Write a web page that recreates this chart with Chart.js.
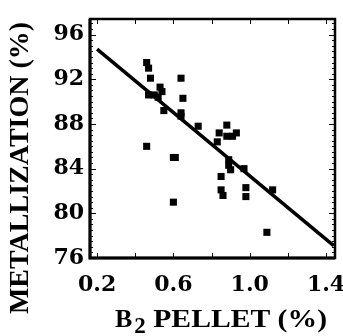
<!DOCTYPE html>
<html>
<head>
<meta charset="utf-8">
<script src="https://cdn.jsdelivr.net/npm/chart.js@4"></script>
<style>
  html, body { margin: 0; padding: 0; background: #ffffff; }
</style>
</head>
<body>
<canvas id="maingraph" width="343" height="336"></canvas>
<script>
// data
const pelletX = [0.46, 0.47, 0.48, 0.64, 0.53, 0.54, 0.47, 0.50, 0.52, 0.65, 0.55, 0.64, 0.64, 0.73, 0.88, 0.84, 0.93, 0.88, 0.91, 0.83, 0.46, 0.60, 0.61, 0.89, 0.89, 0.90, 0.97, 0.85, 0.85, 0.86, 0.98, 0.98, 1.12, 0.60, 1.09];
const metalY = [93.5, 93.0, 92.1, 92.1, 91.3, 90.9, 90.6, 90.6, 90.4, 90.3, 89.2, 89.0, 88.7, 87.8, 87.9, 87.2, 87.2, 86.9, 86.9, 86.4, 86.0, 85.0, 85.0, 84.8, 84.3, 83.9, 84.0, 83.3, 82.1, 81.6, 82.3, 81.5, 82.1, 81.0, 78.3];
const fitX = [0.2, 1.44];
const fitY = [94.7, 77.1];
const xTicks = [0.2, 0.6, 1.0, 1.4];
const yTicks = [76, 80, 84, 88, 92, 96];
const xTitle = ["B", "2", " PELLET (%)"];
const yTitle = "METALLIZATION (%)";

const tickFont = { family: "DejaVu Serif", weight: "bold", size: 22 };
const titleFamily = "'Liberation Serif', serif";

// frame, inward ticks and axis titles
const framePlugin = {
  id: "frame",
  afterDatasetsDraw(chart) {
    const c = chart.ctx;
    const a = chart.chartArea;
    const xs = chart.scales.x;
    const ys = chart.scales.y;
    c.save();
    c.strokeStyle = "#000";
    c.lineWidth = 1;
    c.beginPath();
    for (let v = 76; v <= 97.4; v += 0.5) {
      const py = Math.round(ys.getPixelForValue(v)) + 0.5;
      const len = (v % 4 == 0) ? 6 : 3;
      c.moveTo(a.left, py); c.lineTo(a.left + len, py);
      c.moveTo(a.right, py); c.lineTo(a.right - len, py);
    }
    for (let v = 0.2; v <= 1.41; v += 0.2) {
      const px = Math.round(xs.getPixelForValue(v)) + 0.5;
      c.moveTo(px, a.top); c.lineTo(px, a.top + 5);
      c.moveTo(px, a.bottom); c.lineTo(px, a.bottom - 5);
    }
    c.stroke();
    c.lineWidth = 2.5;
    c.strokeRect(a.left, a.top, a.right - a.left, a.bottom - a.top);
    c.lineWidth = 3;
    c.beginPath();
    c.moveTo(a.left, a.top); c.lineTo(a.left, a.bottom); c.lineTo(a.right, a.bottom);
    c.stroke();

    // y title
    c.fillStyle = "#000";
    c.save();
    c.translate(21, 168);
    c.rotate(-Math.PI / 2);
    c.font = "bold 28px " + titleFamily;
    c.textAlign = "center";
    c.textBaseline = "middle";
    c.fillText(yTitle, 0, 0);
    c.restore();

    // x title with subscript
    c.textAlign = "left";
    c.textBaseline = "alphabetic";
    c.font = "bold 26px " + titleFamily;
    c.fillText(xTitle[0], 115, 327);
    const bw = c.measureText(xTitle[0]).width;
    c.font = "bold 23px " + titleFamily;
    c.fillText(xTitle[1], 115 + bw + 2, 333);
    const sw = c.measureText(xTitle[1]).width;
    c.font = "bold 26px " + titleFamily;
    const startX = 115 + bw + 2 + sw;
    const restW = c.measureText(xTitle[2]).width;
    const sx = (327 - startX) / restW;
    c.save();
    c.translate(startX, 327);
    c.scale(sx, 1);
    c.fillText(xTitle[2], 0, 0);
    c.restore();
    c.restore();
  }
};

const ctx = document.getElementById("maingraph");

new Chart(ctx, {
  type: "scatter",
  data: {
    datasets: [
      {
        label: "data",
        data: pelletX.map((x, i) => ({ x: x, y: metalY[i] })),
        pointStyle: "rect",
        pointRadius: 5,
        backgroundColor: "#000",
        borderColor: "#000",
        borderWidth: 0,
      },
      {
        label: "fit",
        data: fitX.map((x, i) => ({ x: x, y: fitY[i] })),
        showLine: true,
        pointRadius: 0,
        borderColor: "#000",
        borderWidth: 3.5,
      },
    ],
  },
  options: {
    responsive: false,
    animation: false,
    devicePixelRatio: 1,
    layout: { padding: { left: 0, top: 19, right: 8, bottom: 0 } },
    plugins: {
      legend: { display: false },
      tooltip: { enabled: false },
    },
    scales: {
      x: {
        type: "linear",
        min: 0.163,
        max: 1.447,
        afterBuildTicks: (s) => { s.ticks = xTicks.map((v) => ({ value: v })); },
        afterFit: (s) => { s.height = 78; s.paddingLeft = 0; s.paddingRight = 0; },
        grid: { display: false, drawTicks: false },
        border: { display: false },
        ticks: {
          color: "#000",
          font: tickFont,
          padding: 14,
          maxRotation: 0,
          autoSkip: false,
          callback: (v) => Number(v).toFixed(1),
        },
      },
      y: {
        type: "linear",
        min: 76,
        max: 97.4,
        afterBuildTicks: (s) => { s.ticks = yTicks.map((v) => ({ value: v })); },
        afterFit: (s) => { s.width = 90; s.paddingTop = 0; s.paddingBottom = 0; },
        grid: { display: false, drawTicks: false },
        border: { display: false },
        ticks: {
          color: "#000",
          font: tickFont,
          padding: 6,
          autoSkip: false,
        },
      },
    },
  },
  plugins: [framePlugin],
});
</script>
</body>
</html>
